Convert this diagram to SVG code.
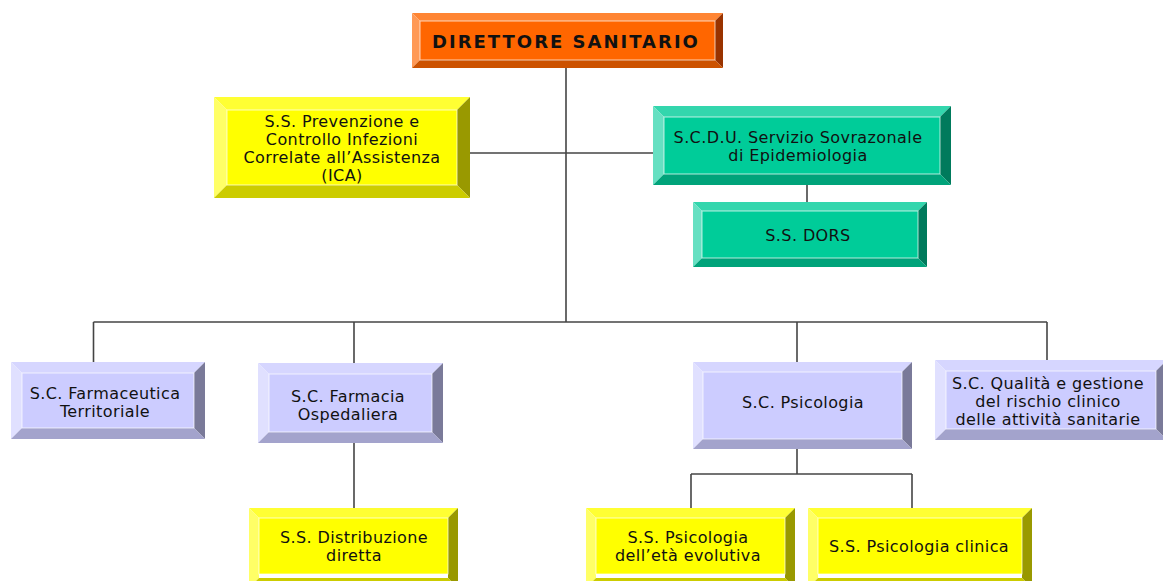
<svg xmlns="http://www.w3.org/2000/svg" width="1163" height="581" viewBox="0 0 1163 581">
<style>
text{font-family:"DejaVu Sans","Verdana",sans-serif;font-size:16px;fill:#111;text-anchor:middle;letter-spacing:0.4px}
.dir{font-weight:bold;font-size:18px;letter-spacing:2px}
.conn line{stroke:#444;stroke-width:1.6}
.face{stroke:#ffffff;stroke-opacity:0.7;stroke-width:1}
.o .t{fill:#FF8533}.o .l{fill:#FF9955}.o .r{fill:#993300}.o .b{fill:#CC5200}.o .face{fill:#FF6600}
.y .t{fill:#FFFF33}.y .l{fill:#FFFF66}.y .r{fill:#999900}.y .b{fill:#CCCC00}.y .face{fill:#FFFF00}
.g .t{fill:#33D6AD}.g .l{fill:#66E0C2}.g .r{fill:#007A5C}.g .b{fill:#00A37A}.g .face{fill:#00CC99}
.p .t{fill:#D6D6FF}.p .l{fill:#E0E0FF}.p .r{fill:#7A7A99}.p .b{fill:#A3A3CC}.p .face{fill:#CCCCFF}
</style>
<rect width="1163" height="581" fill="#ffffff"/>
<g id="connectors" class="conn">
<line x1="566" y1="68" x2="566" y2="322"/>
<line x1="470" y1="153" x2="653" y2="153"/>
<line x1="807" y1="185" x2="807" y2="202"/>
<line x1="93.5" y1="322" x2="1047" y2="322"/>
<line x1="93.5" y1="322" x2="93.5" y2="362"/>
<line x1="354" y1="322" x2="354" y2="363"/>
<line x1="797" y1="322" x2="797" y2="362"/>
<line x1="1047" y1="322" x2="1047" y2="360"/>
<line x1="354" y1="443" x2="354" y2="508"/>
<line x1="797" y1="449" x2="797" y2="474"/>
<line x1="691" y1="474" x2="912" y2="474"/>
<line x1="691" y1="474" x2="691" y2="508"/>
<line x1="912" y1="474" x2="912" y2="508"/>
</g>
<g id="direttore" class="o">
<polygon class="t" points="412,13 723,13 715,21 420,21"/>
<polygon class="l" points="412,13 420,21 420,60 412,68"/>
<polygon class="r" points="723,13 723,68 715,60 715,21"/>
<polygon class="b" points="412,68 723,68 715,60 420,60"/>
<rect class="face" x="420" y="21" width="295" height="39"/>
<text class="dir" x="566" y="48">DIRETTORE SANITARIO</text>
</g>
<g id="ica" class="y">
<polygon class="t" points="214,97 470,97 457,110 227,110"/>
<polygon class="l" points="214,97 227,110 227,185 214,198"/>
<polygon class="r" points="470,97 470,198 457,185 457,110"/>
<polygon class="b" points="214,198 470,198 457,185 227,185"/>
<rect class="face" x="227" y="110" width="230" height="75"/>
<text x="342" y="127">S.S. Prevenzione e</text>
<text x="342" y="145">Controllo Infezioni</text>
<text x="342" y="163">Correlate all’Assistenza</text>
<text x="342" y="181">(ICA)</text>
</g>
<g id="epidemiologia" class="g">
<polygon class="t" points="653,106 951,106 940,117 664,117"/>
<polygon class="l" points="653,106 664,117 664,174 653,185"/>
<polygon class="r" points="951,106 951,185 940,174 940,117"/>
<polygon class="b" points="653,185 951,185 940,174 664,174"/>
<rect class="face" x="664" y="117" width="276" height="57"/>
<text x="798" y="143">S.C.D.U. Servizio Sovrazonale</text>
<text x="798" y="161">di Epidemiologia</text>
</g>
<g id="dors" class="g">
<polygon class="t" points="693,202 927,202 918,211 702,211"/>
<polygon class="l" points="693,202 702,211 702,258 693,267"/>
<polygon class="r" points="927,202 927,267 918,258 918,211"/>
<polygon class="b" points="693,267 927,267 918,258 702,258"/>
<rect class="face" x="702" y="211" width="216" height="47"/>
<text x="808" y="241">S.S. DORS</text>
</g>
<g id="farmaceutica" class="p">
<polygon class="t" points="11,362 205,362 194,373 22,373"/>
<polygon class="l" points="11,362 22,373 22,428 11,439"/>
<polygon class="r" points="205,362 205,439 194,428 194,373"/>
<polygon class="b" points="11,439 205,439 194,428 22,428"/>
<rect class="face" x="22" y="373" width="172" height="55"/>
<text x="105" y="399">S.C. Farmaceutica</text>
<text x="105" y="417">Territoriale</text>
</g>
<g id="ospedaliera" class="p">
<polygon class="t" points="258,363 443,363 432,374 269,374"/>
<polygon class="l" points="258,363 269,374 269,432 258,443"/>
<polygon class="r" points="443,363 443,443 432,432 432,374"/>
<polygon class="b" points="258,443 443,443 432,432 269,432"/>
<rect class="face" x="269" y="374" width="163" height="58"/>
<text x="348" y="402">S.C. Farmacia</text>
<text x="348" y="420">Ospedaliera</text>
</g>
<g id="psicologia" class="p">
<polygon class="t" points="693,362 912,362 902,372 703,372"/>
<polygon class="l" points="693,362 703,372 703,439 693,449"/>
<polygon class="r" points="912,362 912,449 902,439 902,372"/>
<polygon class="b" points="693,449 912,449 902,439 703,439"/>
<rect class="face" x="703" y="372" width="199" height="67"/>
<text x="803" y="408">S.C. Psicologia</text>
</g>
<g id="qualita" class="p">
<polygon class="t" points="935,360 1167,360 1156,371 946,371"/>
<polygon class="l" points="935,360 946,371 946,429 935,440"/>
<polygon class="r" points="1167,360 1167,440 1156,429 1156,371"/>
<polygon class="b" points="935,440 1167,440 1156,429 946,429"/>
<rect class="face" x="946" y="371" width="210" height="58"/>
<text x="1048" y="389">S.C. Qualità e gestione</text>
<text x="1048" y="407">del rischio clinico</text>
<text x="1048" y="425">delle attività sanitarie</text>
</g>
<g id="distribuzione" class="y">
<polygon class="t" points="249,508 458,508 448,518 259,518"/>
<polygon class="l" points="249,508 259,518 259,578 249,588"/>
<polygon class="r" points="458,508 458,588 448,578 448,518"/>
<polygon class="b" points="249,588 458,588 448,578 259,578"/>
<rect class="face" x="259" y="518" width="189" height="56"/>
<text x="354" y="543">S.S. Distribuzione</text>
<text x="354" y="561">diretta</text>
</g>
<g id="evolutiva" class="y">
<polygon class="t" points="586,508 795,508 785,518 596,518"/>
<polygon class="l" points="586,508 596,518 596,578 586,588"/>
<polygon class="r" points="795,508 795,588 785,578 785,518"/>
<polygon class="b" points="586,588 795,588 785,578 596,578"/>
<rect class="face" x="596" y="518" width="189" height="56"/>
<text x="688" y="543">S.S. Psicologia</text>
<text x="688" y="561">dell’età evolutiva</text>
</g>
<g id="clinica" class="y">
<polygon class="t" points="808,508 1032,508 1022,518 818,518"/>
<polygon class="l" points="808,508 818,518 818,578 808,588"/>
<polygon class="r" points="1032,508 1032,588 1022,578 1022,518"/>
<polygon class="b" points="808,588 1032,588 1022,578 818,578"/>
<rect class="face" x="818" y="518" width="204" height="56"/>
<text x="919" y="552">S.S. Psicologia clinica</text>
</g>
</svg>
